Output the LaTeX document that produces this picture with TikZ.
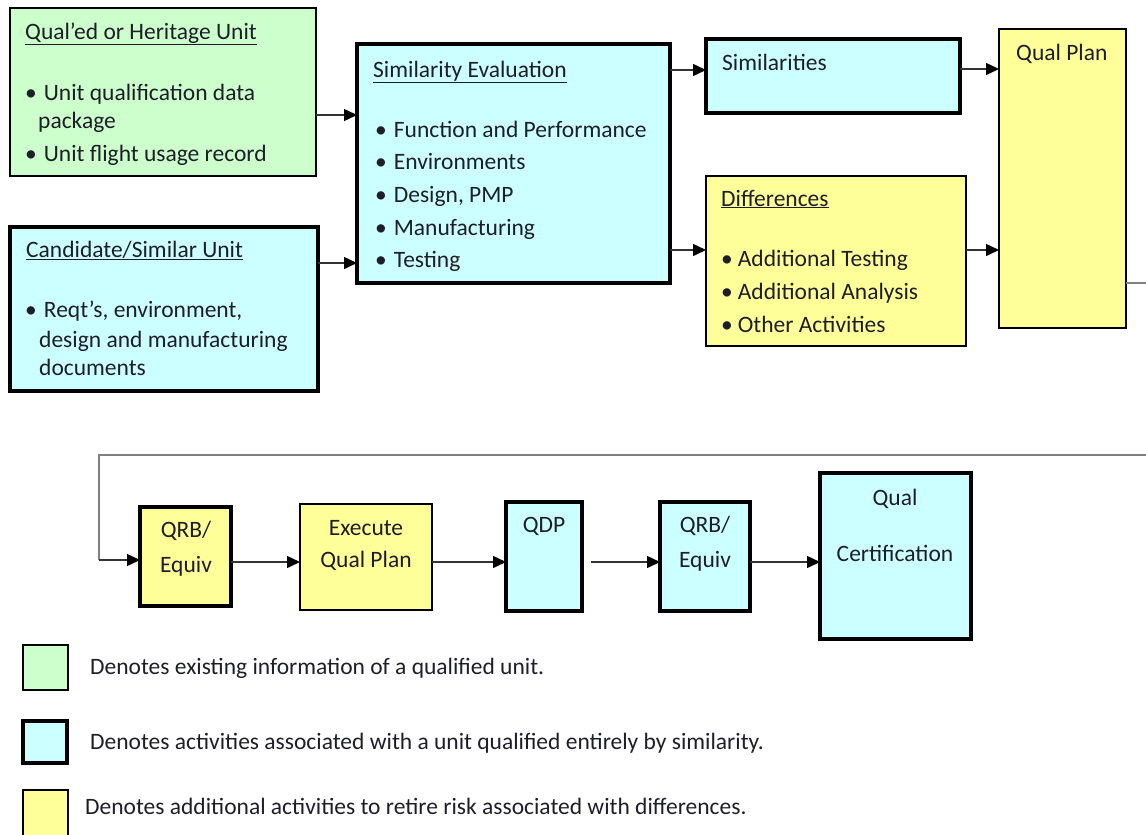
\documentclass[tikz,border=0pt]{standalone}
\usepackage{fontspec}
\setmainfont{Carlito}
\usetikzlibrary{arrows.meta,calc}
\definecolor{gfill}{HTML}{CCFFCC}
\definecolor{cfill}{HTML}{CCFFFF}
\definecolor{yfill}{HTML}{FFFF99}
\definecolor{txt}{HTML}{1E1E28}
\definecolor{conn}{HTML}{333333}
\newcommand{\bul}{•\hspace{7pt}}
\begin{document}
\begin{tikzpicture}[x=1pt,y=-1pt,
  box/.style={draw=black, rectangle, inner sep=0pt, outer sep=0pt},
  thinbox/.style={box, line width=1.4pt},
  thickbox/.style={box, line width=4pt},
  gbox/.style={thinbox, fill=gfill},
  ybox/.style={thinbox, fill=yfill},
  ytbox/.style={thickbox, fill=yfill},
  cbox/.style={thickbox, fill=cfill},
  lbl/.style={anchor=base west, inner sep=0pt, text=txt, font=\fontsize{23.5}{28}\selectfont},
  clbl/.style={anchor=base, inner sep=0pt, text=txt, font=\fontsize{23.5}{28}\selectfont},
  leg/.style={anchor=base west, inner sep=0pt, text=txt, font=\fontsize{23.5}{28}\selectfont},
  arr/.style={draw=conn, line width=1.5pt, -{Triangle[length=13pt,width=12pt,fill=black,color=black]}},
  ln/.style={draw=gray, line width=2pt}
]
\useasboundingbox (0,0) rectangle (1146,835);

% ---- top boxes
\node[gbox, minimum width=306, minimum height=168] (qual) at (163,92) {};
\node[cbox, minimum width=308, minimum height=164] (cand) at (164,309) {};
\node[cbox, minimum width=313, minimum height=239] (sim) at (513.5,163.5) {};
\node[cbox, minimum width=254, minimum height=74] (simil) at (833,76) {};
\node[ybox, minimum width=260, minimum height=170] (diff) at (836,261) {};
\node[ybox, minimum width=127, minimum height=299] (qp) at (1062.5,178.5) {};

% texts of qual
\node[lbl] (t1) at (25,39) {\underline{Qual’ed or Heritage Unit}};
\node[lbl] (t2) at (25,100) {\bul Unit qualification data};
\node[lbl] (t3) at (38,128) {package};
\node[lbl] (t4) at (25,161) {\bul Unit flight usage record};
% cand
\node[lbl] (c1) at (26,257) {\underline{Candidate/Similar Unit}};
\node[lbl] (c2) at (25,317) {\bul Reqt’s, environment,};
\node[lbl] (c3) at (39,347) {design and manufacturing};
\node[lbl] (c4) at (39,375) {documents};
% sim eval
\node[lbl] (s1) at (373,77) {\underline{Similarity Evaluation}};
\node[lbl] (s2) at (375,137) {\bul Function and Performance};
\node[lbl] (s3) at (375,169) {\bul Environments};
\node[lbl] (s4) at (375,202) {\bul Design, PMP};
\node[lbl] (s5) at (375,235) {\bul Manufacturing};
\node[lbl] (s6) at (375,267) {\bul Testing};
% similarities
\node[lbl] (m1) at (722,70) {Similarities};
% differences
\node[lbl] (d1) at (721,206) {\underline{Differences}};
\node[lbl] (d2) at (721,266) {•\hspace{5pt}Additional Testing};
\node[lbl] (d3) at (721,299) {•\hspace{5pt}Additional Analysis};
\node[lbl] (d4) at (721,332) {•\hspace{5pt}Other Activities};
% qual plan
\node[lbl] (q1) at (1016,60) {Qual Plan};

% ---- top connectors
\draw[arr] (qual.east |- 0,115) -- (sim.west |- 0,115);
\draw[arr] (cand.east |- 0,263) -- (sim.west |- 0,263);
\draw[arr] (sim.east |- 0,70) -- (simil.west |- 0,70);
\draw[arr] (sim.east |- 0,250) -- (diff.west |- 0,250);
\draw[arr] (simil.east |- 0,69) -- (qp.west |- 0,69);
\draw[arr] (diff.east |- 0,250) -- (qp.west |- 0,250);
\coordinate (edgeA) at (1150,283);
\coordinate (edgeB) at (1150,455);
\coordinate (corner) at (99,455);
\draw[ln] (qp.east |- edgeA) -- (edgeA);

% ---- bottom row
\node[ytbox, minimum width=91, minimum height=99] (qrb1) at (185.5,556.5) {};
\node[ybox, minimum width=132, minimum height=106] (exe) at (366,557) {};
\node[cbox, minimum width=76, minimum height=109] (qdp) at (544,556.5) {};
\node[cbox, minimum width=90, minimum height=109] (qrb2) at (705,556.5) {};
\node[cbox, minimum width=151, minimum height=166] (cert) at (895.5,556) {};

\node[clbl] (b1) at (186,537) {QRB/};
\node[clbl] (b2) at (186,572) {Equiv};
\node[clbl] (e1) at (366,535) {Execute};
\node[clbl] (e2) at (366,567) {Qual Plan};
\node[clbl] (p1) at (544,532) {QDP};
\node[clbl] (r1) at (705,532) {QRB/};
\node[clbl] (r2) at (705,567) {Equiv};
\node[clbl] (f1) at (895,505) {Qual};
\node[clbl] (f2) at (895,561) {Certification};

\draw[ln] (edgeB) -- (corner) -- (corner |- 0,560);
\draw[arr] (corner |- 0,560) -- (qrb1.west |- 0,560);
\draw[arr] (qrb1.east |- 0,562) -- (exe.west |- 0,562);
\draw[arr] (exe.east |- 0,562) -- (qdp.west |- 0,562);
\draw[arr] ([xshift=9pt]qdp.east |- 0,562) -- (qrb2.west |- 0,562);
\draw[arr] (qrb2.east |- 0,562) -- (cert.west |- 0,562);

% ---- legend
\node[gbox, minimum width=45, minimum height=45] (lg) at (45.5,667.5) {};
\node[cbox, minimum width=44, minimum height=42] (lc) at (45,742) {};
\node[ybox, minimum width=45, minimum height=46] (ly) at (45.5,813) {};
\node[leg] (lt1) at (90,674) {Denotes existing information of a qualified unit.};
\node[leg] (lt2) at (90,749) {Denotes activities associated with a unit qualified entirely by similarity.};
\node[leg] (lt3) at (85,814) {Denotes additional activities to retire risk associated with differences.};
\end{tikzpicture}
\end{document}
